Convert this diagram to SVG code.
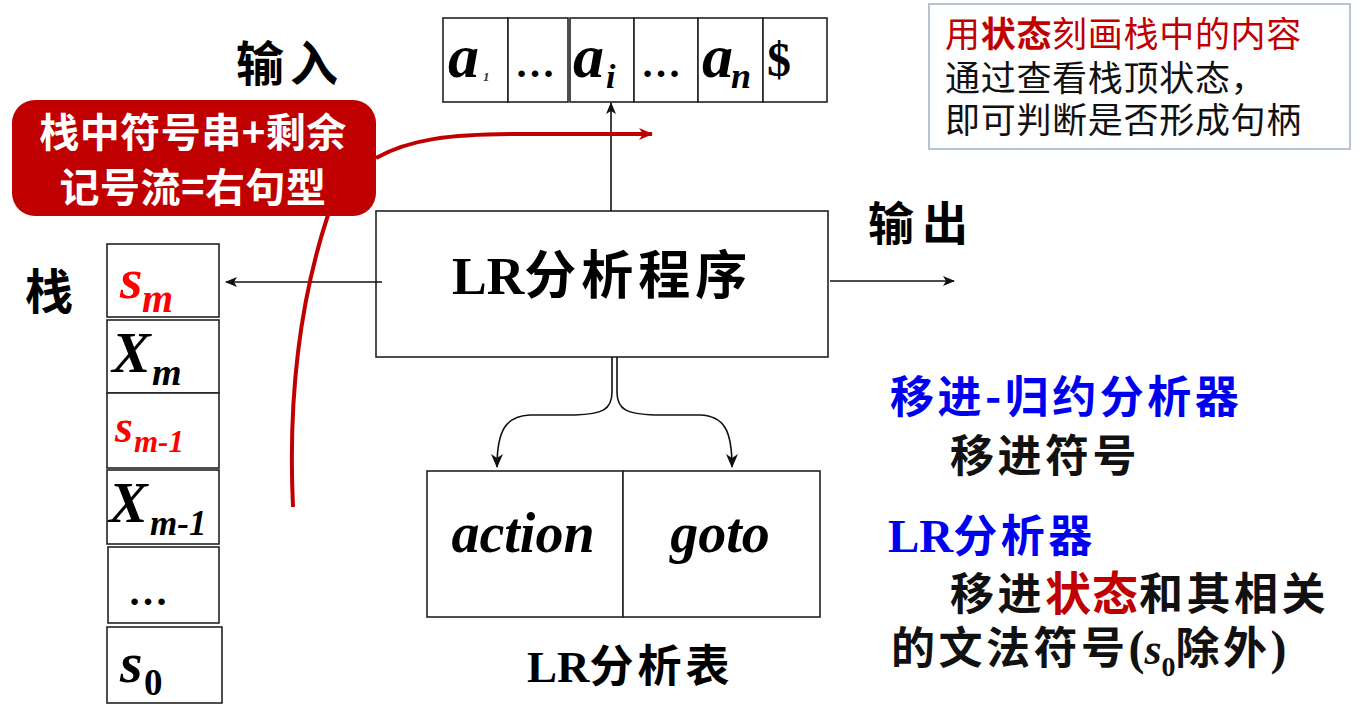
<svg xmlns="http://www.w3.org/2000/svg" width="1362" height="714" viewBox="0 0 1362 714">
<defs>
<style>
.cell{fill:#fff;stroke:#222;stroke-width:1.6}
.box{fill:#fff;stroke:#222;stroke-width:1.6}
.cjk{font-family:"Noto Sans CJK SC",sans-serif;font-weight:bold}
.kai{font-family:"Noto Sans CJK SC",sans-serif;font-weight:bold;letter-spacing:3.5px}
.sym{font-family:"Liberation Serif",serif;font-weight:bold;font-style:italic}
.ser{font-family:"Liberation Serif",serif;font-weight:bold}
.note{font-family:"Noto Sans CJK SC",sans-serif;font-size:35px}
.conn{fill:none;stroke:#111;stroke-width:1.6}
.red{fill:none;stroke:#C00000;stroke-width:4}
</style>
<marker id="ah" viewBox="0 0 12 10" refX="11" refY="5" markerWidth="12" markerHeight="10" markerUnits="userSpaceOnUse" orient="auto"><path d="M0,0 L12,5 L0,10 L3,5 z" fill="#111"/></marker>
<marker id="ahb" viewBox="0 0 14 12" refX="13" refY="6" markerWidth="14" markerHeight="12" markerUnits="userSpaceOnUse" orient="auto"><path d="M0,0 L14,6 L0,12 L4,6 z" fill="#111"/></marker>
<marker id="ahr" viewBox="0 0 14 12" refX="13" refY="6" markerWidth="14" markerHeight="12" markerUnits="userSpaceOnUse" orient="auto"><path d="M0,0 L14,6 L0,12 L4,6 z" fill="#C00000"/></marker>
</defs>
<rect width="1362" height="714" fill="#fff"/>

<g id="input-label"><text class="cjk" x="236" y="81" font-size="48" letter-spacing="6">输入</text></g>
<g id="output-label"><text class="cjk" x="868" y="240" font-size="46" letter-spacing="8">输出</text></g>
<g id="stack-label"><text class="cjk" x="25" y="309" font-size="48">栈</text></g>

<g id="input-tape">
<rect class="cell" x="443" y="18" width="65" height="84"/>
<rect class="cell" x="508" y="18" width="60" height="84"/>
<rect class="cell" x="570" y="18" width="64" height="84"/>
<rect class="cell" x="634" y="18" width="64" height="84"/>
<rect class="cell" x="698" y="18" width="65" height="84"/>
<rect class="cell" x="763" y="18" width="64" height="84"/>
<text class="sym" x="448" y="77" font-size="62">a</text>
<text class="sym" x="483" y="81" font-size="13" fill="#334">1</text>
<text class="ser" x="515" y="77" font-size="40">…</text>
<text class="sym" x="573" y="77" font-size="62">a</text>
<text class="sym" x="606" y="88" font-size="34">i</text>
<text class="ser" x="641" y="77" font-size="40">…</text>
<text class="sym" x="702" y="77" font-size="62">a</text>
<text class="sym" x="731" y="88" font-size="36">n</text>
<text class="ser" x="767" y="76" font-size="48">$</text>
</g>

<g id="stack">
<rect class="cell" x="107" y="244" width="112" height="73"/>
<rect class="cell" x="107" y="320" width="112" height="73"/>
<rect class="cell" x="107" y="393" width="112" height="75"/>
<rect class="cell" x="107" y="470" width="112" height="74"/>
<rect class="cell" x="108" y="547" width="111" height="76"/>
<rect class="cell" x="107" y="627" width="115" height="76"/>
<text class="sym" x="120" y="298" font-size="58" fill="#FF0000">s</text>
<text class="sym" x="142" y="312" font-size="40" fill="#FF0000">m</text>
<text class="sym" x="112" y="372" font-size="58">X</text>
<text class="sym" x="152" y="385" font-size="38">m</text>
<text class="sym" x="115" y="442" font-size="46" fill="#FF0000">s</text>
<text class="sym" x="134" y="452" font-size="31" fill="#FF0000">m-1</text>
<text class="sym" x="109" y="522" font-size="58">X</text>
<text class="sym" x="150" y="535" font-size="35">m-1</text>
<text class="ser" x="128" y="605" font-size="40">…</text>
<text class="sym" x="120" y="682" font-size="58">s</text>
<text class="ser" x="144" y="695" font-size="37">0</text>
</g>

<g id="lr-program">
<rect class="box" x="376" y="211" width="452" height="146"/>
<text x="452" y="294" font-size="52"><tspan class="ser">LR</tspan><tspan class="cjk" letter-spacing="5">分析程序</tspan></text>
</g>

<g id="lr-table">
<rect class="box" x="427" y="471" width="196" height="146"/>
<rect class="box" x="623" y="471" width="197" height="146"/>
<text class="sym" x="523" y="552" font-size="56" text-anchor="middle">action</text>
<text class="sym" x="720" y="552" font-size="56" text-anchor="middle">goto</text>
<text x="527" y="682" font-size="45"><tspan class="ser">LR</tspan><tspan class="cjk" font-size="44" letter-spacing="4">分析表</tspan></text>
</g>

<g id="callout">
<rect x="12" y="100" width="364" height="116" rx="23" fill="#C00000"/>
<text class="cjk" x="193" y="147" font-size="40" fill="#fff" text-anchor="middle" letter-spacing="0.5">栈中符号串+剩余</text>
<text class="cjk" x="193" y="202" font-size="40" fill="#fff" text-anchor="middle" letter-spacing="0.5">记号流=右句型</text>
</g>

<g id="note">
<rect x="929" y="4" width="421" height="145" fill="#fff" stroke="#B8C4D4" stroke-width="2"/>
<text class="note" x="945" y="47" fill="#C00000" letter-spacing="0.7">用<tspan font-weight="bold">状态</tspan>刻画栈中的内容</text>
<text class="note" x="945" y="91" fill="#111" letter-spacing="0.7">通过查看栈顶状态，</text>
<text class="note" x="945" y="133" fill="#111" letter-spacing="0.7">即可判断是否形成句柄</text>
</g>

<g id="explain">
<text class="kai" x="890" y="413" font-size="44" fill="#0000F0">移进-归约分析器</text>
<text class="kai" x="950" y="472" font-size="44" fill="#111">移进符号</text>
<text x="888" y="552" fill="#0000F0"><tspan class="ser" font-size="47">LR</tspan><tspan class="kai" font-size="44">分析器</tspan></text>
<text x="950" y="610" font-size="44" fill="#111"><tspan class="kai">移进</tspan><tspan class="cjk" fill="#C00000" font-size="46" letter-spacing="1">状态</tspan><tspan class="kai">和其相关</tspan></text>
<text x="891" y="664" font-size="44" fill="#111"><tspan class="kai">的文法符号</tspan><tspan class="ser" font-size="48">(</tspan><tspan class="sym" font-size="44">s</tspan><tspan class="ser" font-size="28" dy="12">0</tspan><tspan class="kai" dy="-12">除外</tspan><tspan class="ser" font-size="48">)</tspan></text>
</g>

<g id="connectors">
<line class="conn" x1="611" y1="211" x2="611" y2="103" marker-end="url(#ah)"/>
<line class="conn" x1="382" y1="282" x2="226" y2="282" marker-end="url(#ah)"/>
<line class="conn" x1="830" y1="281" x2="954" y2="281" marker-end="url(#ah)"/>
<path class="conn" stroke-width="2" d="M612 357 L612 392 C612 410 602 414 575 415 L530 415 C506 416 497 430 497 467" marker-end="url(#ahb)"/>
<path class="conn" stroke-width="2" d="M617 357 L617 392 C617 410 627 414 655 415 L700 415 C724 416 732 430 732 467" marker-end="url(#ahb)"/>
<path class="red" d="M376 158 C410 139 450 134 520 134 L652 134" marker-end="url(#ahr)"/>
<path class="red" d="M328 215 C300 300 288 400 293 507"/>
</g>
</svg>
